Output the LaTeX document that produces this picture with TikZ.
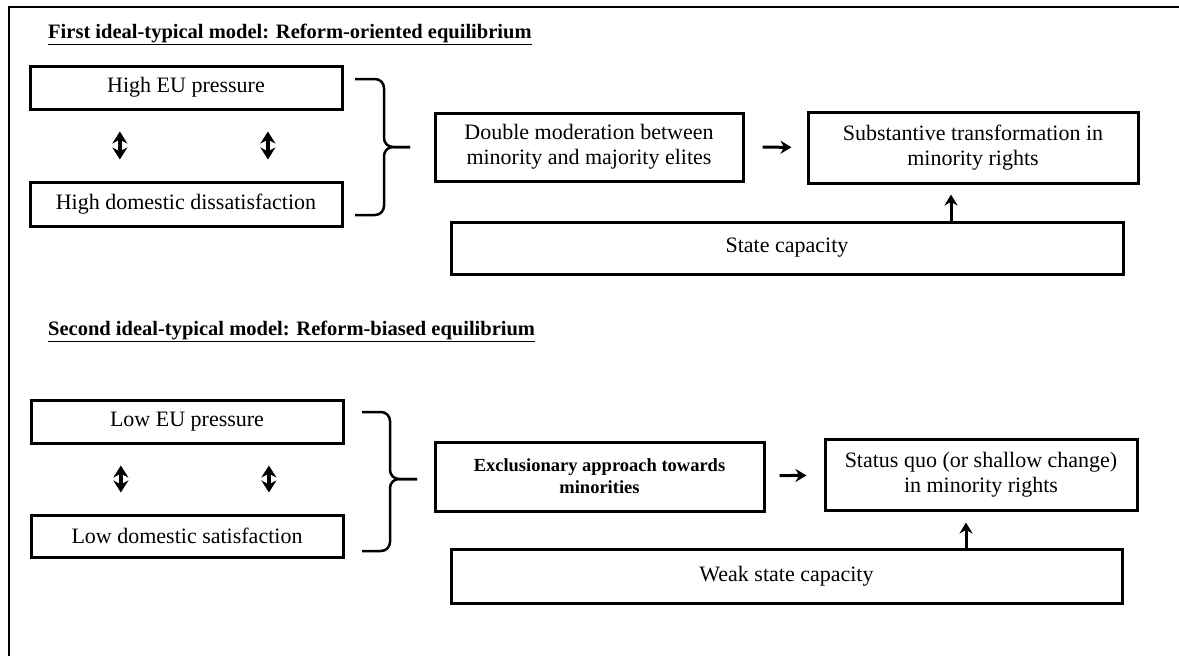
\documentclass[tikz,border=0pt]{standalone}
\usepackage{fontspec}
\setmainfont{Liberation Serif}
\usetikzlibrary{arrows.meta}
\usetikzlibrary{calc}

\begin{document}
\begin{tikzpicture}[x=1pt, y=-1pt, font=\fontsize{22}{25}\selectfont]
    \tikzstyle{block}=[draw=black, rectangle, fill=none, align=center, inner sep=0pt, line width=3pt]
    \tikzstyle{title}=[anchor=base west, inner sep=0pt, font=\fontsize{20.5}{24}\selectfont\bfseries]
    \tikzstyle{link}=[-{Stealth[length=11pt, width=13pt]}, line width=3pt]
    \tikzstyle{both}=[{Stealth[length=12pt, width=15pt]}-{Stealth[length=12pt, width=15pt]}, line width=4pt, shorten <=21pt, shorten >=21pt]
    \tikzstyle{curly}=[line width=2.5pt, rounded corners=9pt]

    \useasboundingbox (0,0) rectangle (1179,656);
    \draw[line width=2pt] (1179,7) -- (9,7) -- (9,656);

    % first model
    \node[title] (t1) at (48,38) {\underline{First ideal-typical model: Reform-oriented equilibrium}};
    \node[block, minimum width=312pt, minimum height=43pt] (r1a) at (186,87.5) {High EU pressure};
    \node[block, minimum width=312pt, minimum height=44pt] (r1b) at (186,204) {High domestic dissatisfaction};
    \node[block, minimum width=308pt, minimum height=68pt] (r1c) at (589,147) {Double moderation between\\minority and majority elites};
    \node[block, minimum width=330pt, minimum height=71pt] (r1d) at (973,147.5) {Substantive transformation in\\minority rights};
    \node[block, minimum width=672pt, minimum height=52pt] (r1e) at (787,248) {State capacity};
    \coordinate (u1) at (951,0);

    \path[both] ($(r1a.south west)!0.29!(r1a.south east)$) edge ($(r1b.north west)!0.29!(r1b.north east)$);
    \path[both] ($(r1a.south west)!0.76!(r1a.south east)$) edge ($(r1b.north west)!0.76!(r1b.north east)$);
    \draw[curly] (355,79) -- (384,79) -- (384,147) -- (410,147);
    \draw[curly] (410,147) -- (384,147) -- (384,215) -- (355,215);
    \path[link, shorten <=18pt, shorten >=15pt] (r1c) edge (r1d);
    \path[link, shorten >=10pt] (u1 |- r1e.north) edge (u1 |- r1d.south);

    % second model
    \node[title] (t2) at (48,335) {\underline{Second ideal-typical model: Reform-biased equilibrium}};
    \node[block, minimum width=312pt, minimum height=43pt] (r2a) at (187,421.5) {Low EU pressure};
    \node[block, minimum width=312pt, minimum height=42pt] (r2b) at (187,536) {Low domestic satisfaction};
    \node[block, minimum width=329pt, minimum height=69pt, font=\fontsize{18.5}{22}\selectfont\bfseries] (r2c) at (599.5,476.5) {Exclusionary approach towards\\minorities};
    \node[block, minimum width=312pt, minimum height=71pt] (r2d) at (981,474.5) {Status quo (or shallow change)\\in minority rights};
    \node[block, minimum width=671pt, minimum height=54pt] (r2e) at (786.5,576) {Weak state capacity};
    \coordinate (u2) at (966,0);

    \path[both] ($(r2a.south west)!0.29!(r2a.south east)$) edge ($(r2b.north west)!0.29!(r2b.north east)$);
    \path[both] ($(r2a.south west)!0.76!(r2a.south east)$) edge ($(r2b.north west)!0.76!(r2b.north east)$);
    \draw[curly] (362,412) -- (390,412) -- (390,479) -- (417,479);
    \draw[curly] (417,479) -- (390,479) -- (390,551) -- (362,551);
    \path[link, shorten <=14pt, shorten >=17pt] (r2c) edge (r2d);
    \path[link, shorten >=11pt] (u2 |- r2e.north) edge (u2 |- r2d.south);
\end{tikzpicture}
\end{document}
